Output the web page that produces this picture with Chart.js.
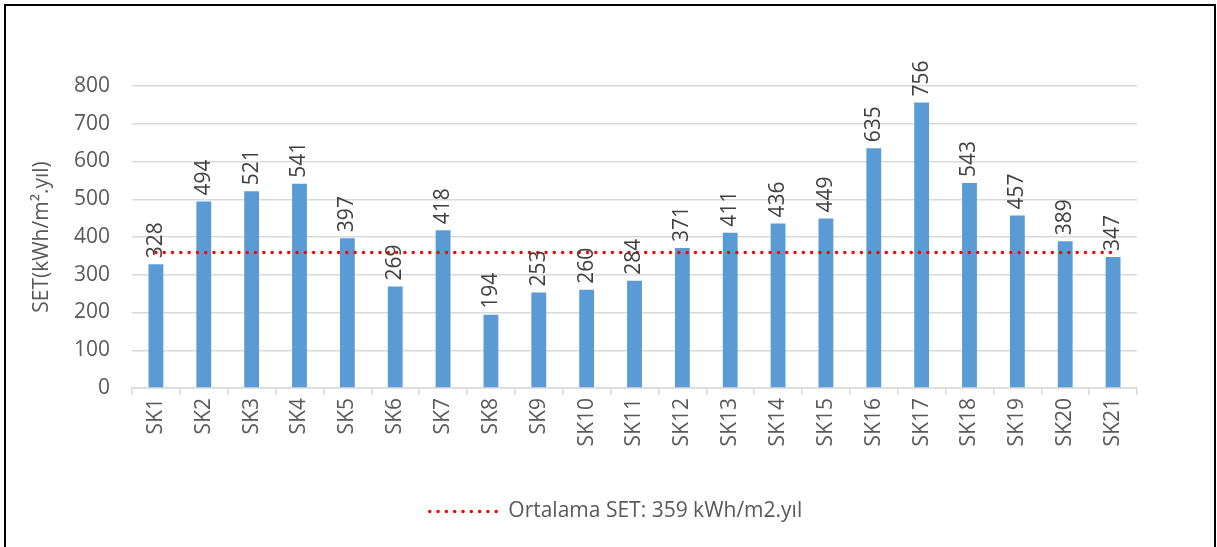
<!DOCTYPE html>
<html>
<head>
<meta charset="utf-8">
<script src="https://cdn.jsdelivr.net/npm/chart.js@4.4.1/dist/chart.umd.min.js"></script>
<style>
  html, body { margin: 0; padding: 0; background: #fff; }
  #wrap { position: absolute; left: 0; top: 0; width: 1217px; height: 547px; }
  #frame { position: absolute; left: 4px; top: 4px; width: 1208px; height: 600px; border: 2px solid #000; pointer-events: none; }
</style>
</head>
<body>
<div id="wrap"><canvas id="myChart" width="1217" height="547"></canvas></div>
<div id="frame"></div>
<script>
// Veriler
var kategoriler = ["SK1","SK2","SK3","SK4","SK5","SK6","SK7","SK8","SK9","SK10","SK11","SK12","SK13","SK14","SK15","SK16","SK17","SK18","SK19","SK20","SK21"];
var setDegerleri = [328, 494, 521, 541, 397, 269, 418, 194, 253, 260, 284, 371, 411, 436, 449, 635, 756, 543, 457, 389, 347];
var ortalamaDeger = 359;
var ortalamaSerisi = kategoriler.map(function () { return ortalamaDeger; });
var yTikleri = [0, 100, 200, 300, 400, 500, 600, 700, 800];

var yaziTipi = "'Open Sans', sans-serif";
var yaziBoyu = 21;

// Çubukların üstüne dikey değer etiketleri
var degerEtiketleri = {
  id: "degerEtiketleri",
  afterDatasetsDraw: function (chart) {
    var ctx = chart.ctx;
    var meta = chart.getDatasetMeta(1);
    ctx.save();
    ctx.font = yaziBoyu + "px " + yaziTipi;
    ctx.fillStyle = "#404040";
    ctx.textAlign = "left";
    ctx.textBaseline = "middle";
    meta.data.forEach(function (bar, i) {
      ctx.save();
      ctx.translate(bar.x, bar.y - 6);
      ctx.rotate(-Math.PI / 2);
      ctx.fillText(String(setDegerleri[i]), 0, 0);
      ctx.restore();
    });
    ctx.restore();
  }
};

var ctx1 = document.getElementById("myChart").getContext("2d");
new Chart(ctx1, {
  data: {
    labels: kategoriler,
    datasets: [
      {
        type: "line",
        label: "Ortalama SET: 359 kWh/m2.yıl",
        data: ortalamaSerisi,
        borderColor: "#FF0000",
        backgroundColor: "#FF0000",
        borderWidth: 3.5,
        borderDash: [0, 8.3],
        borderCapStyle: "round",
        pointRadius: 0,
        pointStyle: "line",
        fill: false,
        order: 0
      },
      {
        type: "bar",
        label: "SET",
        data: setDegerleri,
        backgroundColor: "#5B9BD5",
        barPercentage: 0.31,
        categoryPercentage: 1,
        order: 1
      }
    ]
  },
  plugins: [degerEtiketleri],
  options: {
    responsive: false,
    animation: false,
    layout: { padding: { top: 86, right: 0, bottom: 15, left: 15 } },
    plugins: {
      tooltip: { enabled: false },
      legend: {
        position: "bottom",
        labels: {
          usePointStyle: true,
          pointStyleWidth: 68,
          color: "#595959",
          font: { family: yaziTipi, size: yaziBoyu },
          padding: 10,
          filter: function (item) { return item.datasetIndex === 0; },
          generateLabels: function (chart) {
            var items = Chart.defaults.plugins.legend.labels.generateLabels(chart);
            items.forEach(function (it) {
              if (it.datasetIndex === 0) {
                it.lineDash = [0, 8.3];
                it.lineCap = "round";
                it.lineWidth = 3.5;
                it.strokeStyle = "#FF0000";
              }
            });
            return items;
          }
        }
      }
    },
    scales: {
      x: {
        grid: {
          display: true,
          offset: true,
          drawOnChartArea: false,
          drawTicks: true,
          tickLength: 7,
          color: "#d9d9d9",
          lineWidth: 1.5
        },
        border: { display: true, color: "#d9d9d9", width: 1.5 },
        ticks: {
          color: "#595959",
          font: { family: yaziTipi, size: yaziBoyu },
          minRotation: 90,
          maxRotation: 90,
          autoSkip: false,
          padding: 3
        },
        afterFit: function (scale) { scale.height = 103; }
      },
      y: {
        min: 0,
        max: 800,
        afterBuildTicks: function (scale) {
          scale.ticks = yTikleri.map(function (v) { return { value: v }; });
        },
        grid: { color: "#d9d9d9", lineWidth: 1.5, drawTicks: false },
        border: { display: false },
        ticks: {
          color: "#595959",
          font: { family: yaziTipi, size: yaziBoyu },
          padding: 22
        },
        title: {
          display: true,
          text: "SET(kWh/m².yıl)",
          color: "#595959",
          font: { family: yaziTipi, size: yaziBoyu },
          padding: { top: 14, bottom: 0 }
        },
        afterFit: function (scale) { scale.width = 117; }
      },
      // sağ tarafta boş alan bırakmak için görünmez eksen
      bos: {
        type: "linear",
        position: "right",
        display: true,
        grid: { display: false },
        border: { display: false },
        ticks: { display: false },
        afterFit: function (scale) { scale.width = 80; }
      }
    }
  }
});
</script>
</body>
</html>
